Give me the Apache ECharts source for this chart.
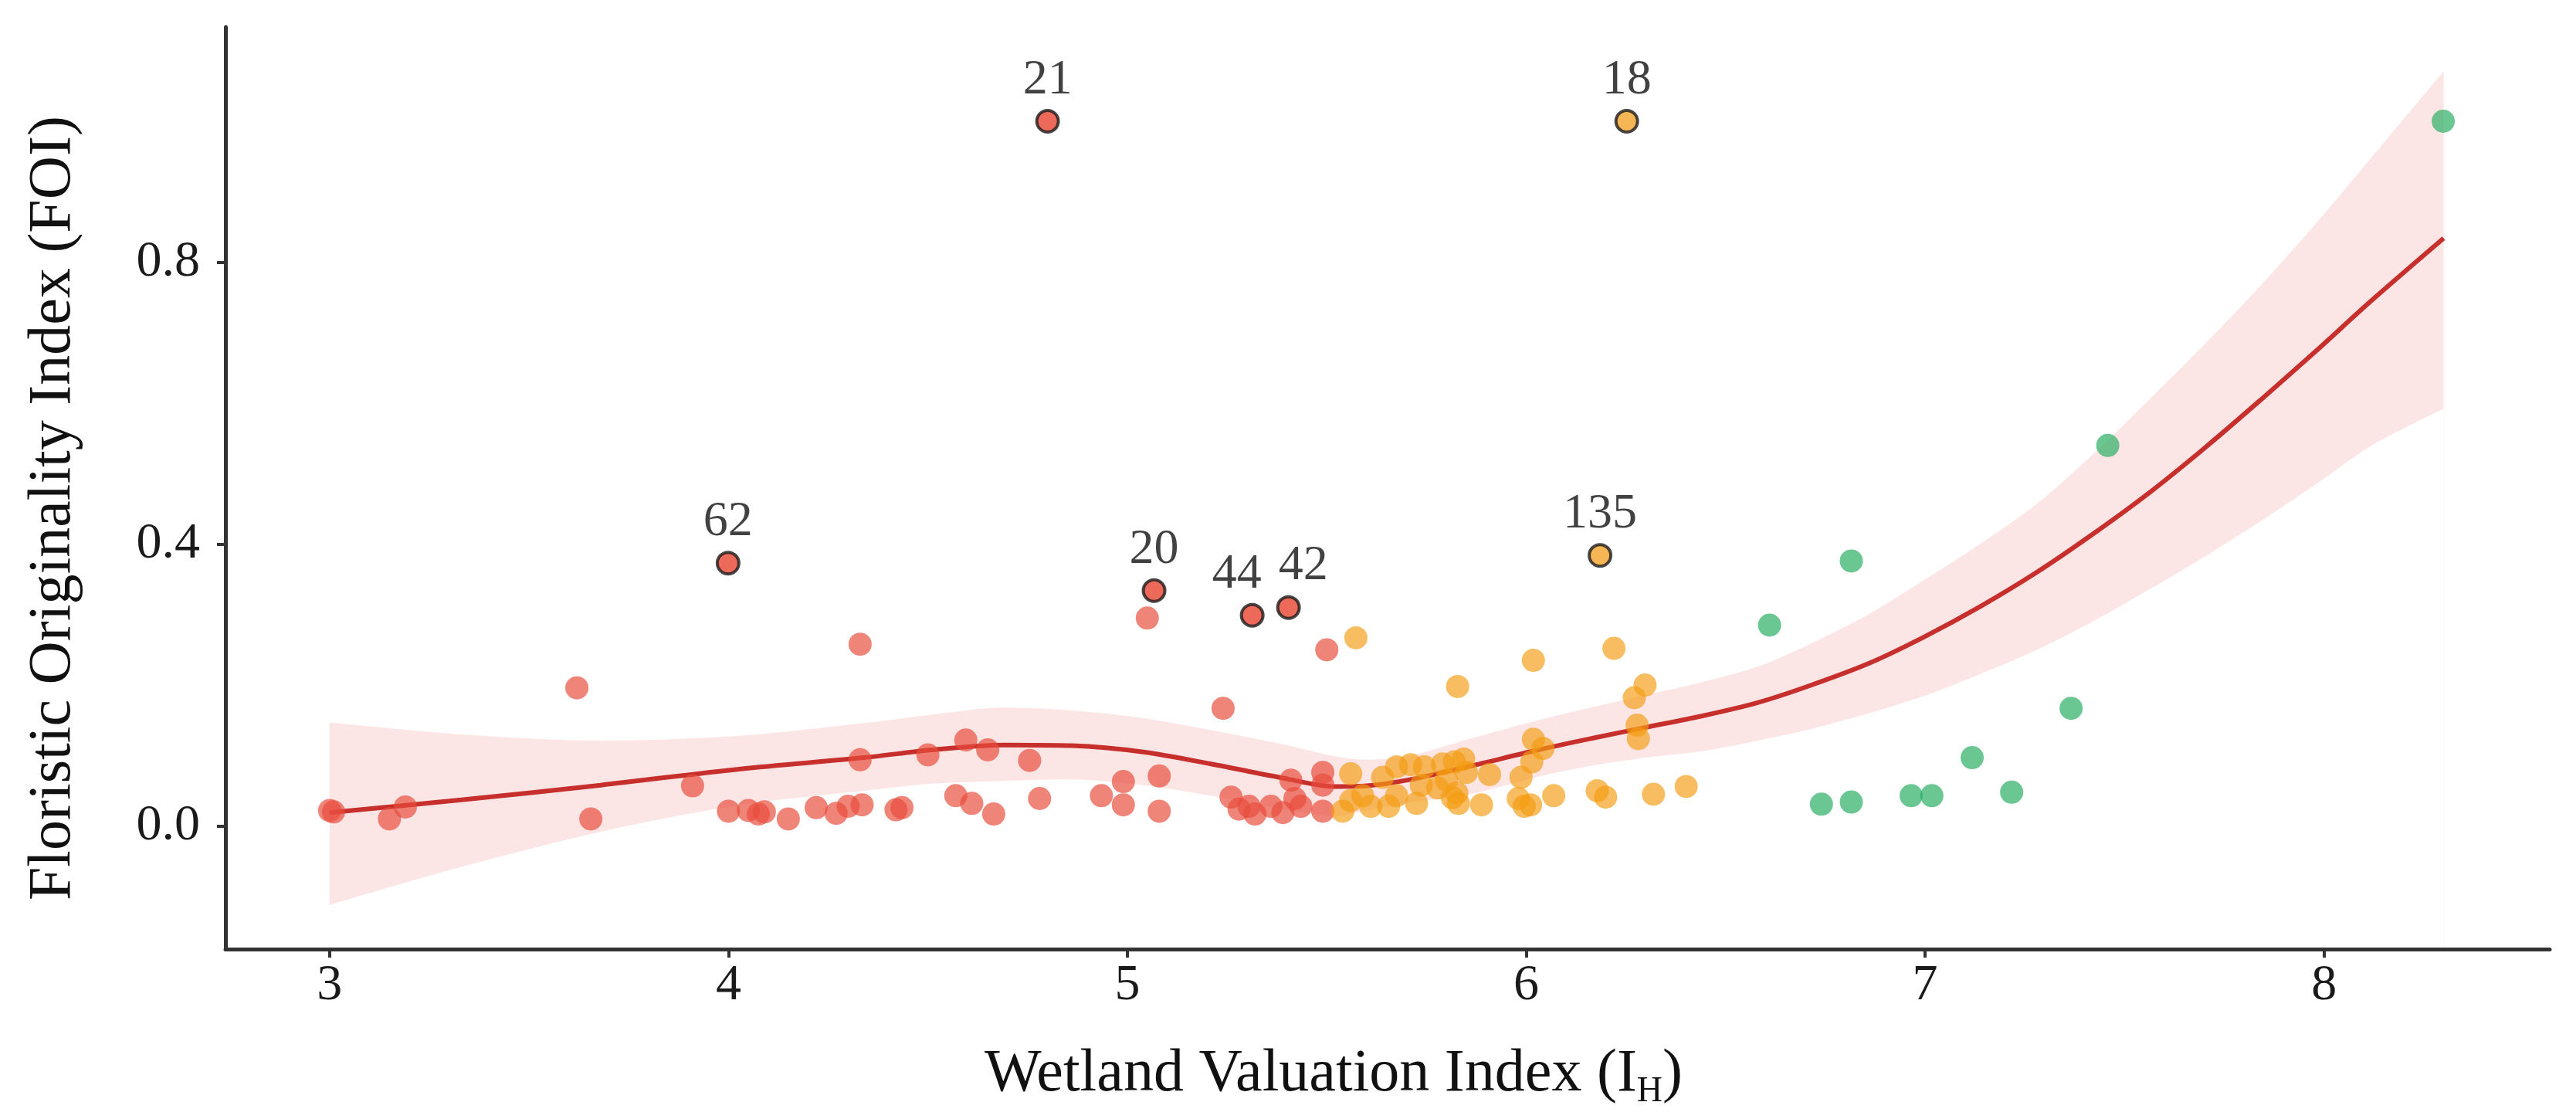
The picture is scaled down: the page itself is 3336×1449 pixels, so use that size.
<!DOCTYPE html>
<html>
<head>
<meta charset="utf-8">
<script src="https://cdn.jsdelivr.net/npm/echarts@6/dist/echarts.min.js"></script>
<style>
html,body{margin:0;padding:0;background:#fff;}
#chart{width:3336px;height:1449px;}
</style>
</head>
<body>
<div id="chart"></div>
<script>
// ---- data ----
const xTicks = [3, 4, 5, 6, 7, 8];
const yTicks = [0, 0.4, 0.8];

const redPoints = [
  [3.00, 0.022], [3.01, 0.020], [3.15, 0.010], [3.19, 0.027], [3.62, 0.196], [3.655, 0.010],
  [3.91, 0.057], [4.00, 0.021], [4.05, 0.022], [4.075, 0.017], [4.09, 0.020], [4.15, 0.010],
  [4.22, 0.026], [4.27, 0.018], [4.30, 0.028], [4.335, 0.030], [4.33, 0.258], [4.33, 0.094],
  [4.42, 0.023], [4.435, 0.026], [4.50, 0.101], [4.57, 0.043], [4.595, 0.122], [4.61, 0.032],
  [4.65, 0.108], [4.665, 0.017], [4.755, 0.093], [4.78, 0.039], [4.935, 0.043], [4.99, 0.063],
  [4.99, 0.030], [5.08, 0.071], [5.08, 0.021], [5.05, 0.295], [5.50, 0.250], [5.24, 0.167],
  [5.26, 0.041], [5.28, 0.024], [5.305, 0.028], [5.32, 0.017], [5.36, 0.028], [5.39, 0.019],
  [5.41, 0.065], [5.42, 0.039], [5.435, 0.028], [5.49, 0.076], [5.49, 0.058], [5.49, 0.021]
];

const orangePoints = [
  [5.54, 0.021], [5.56, 0.074], [5.56, 0.036], [5.573, 0.267], [5.59, 0.043], [5.61, 0.028],
  [5.64, 0.069], [5.655, 0.028], [5.675, 0.084], [5.675, 0.043], [5.71, 0.087], [5.725, 0.032],
  [5.745, 0.084], [5.737, 0.058], [5.778, 0.054], [5.79, 0.088], [5.80, 0.065], [5.82, 0.091],
  [5.826, 0.047], [5.83, 0.032], [5.828, 0.198], [5.815, 0.040], [5.843, 0.095], [5.85, 0.076],
  [5.908, 0.073], [5.888, 0.030], [5.98, 0.039], [5.987, 0.069], [5.995, 0.028], [6.011, 0.030],
  [6.014, 0.091], [6.018, 0.123], [6.042, 0.110], [6.018, 0.235], [6.069, 0.043], [6.178, 0.050],
  [6.199, 0.041], [6.22, 0.252], [6.271, 0.182], [6.298, 0.200], [6.278, 0.143], [6.281, 0.124],
  [6.319, 0.045], [6.401, 0.056]
];

const greenPoints = [
  [6.61, 0.285], [6.74, 0.031], [6.815, 0.034], [6.815, 0.376], [6.965, 0.043], [7.017, 0.043],
  [7.118, 0.097], [7.217, 0.048], [7.366, 0.167], [7.458, 0.540], [8.299, 1.000]
];

const outlierX = [4.80, 3.999, 5.067, 5.313, 5.404, 6.252, 6.185];
const outlierY = [1.000, 0.373, 0.334, 0.299, 0.310, 1.000, 0.384];
const outlierLabels = ['21', '62', '20', '44', '42', '18', '135'];
const outlierGroup = ['red', 'red', 'red', 'red', 'red', 'orange', 'orange'];

const fitX   = [3.00, 3.33, 3.68, 4.03, 4.34, 4.51, 4.69, 4.86, 5.04, 5.21, 5.39, 5.52, 5.60, 5.71, 5.86, 6.03, 6.17, 6.30, 6.44, 6.58, 6.71, 6.86, 7.00, 7.14, 7.28, 7.42, 7.56, 7.70, 7.84, 7.98, 8.12, 8.30];
const fitY   = [0.019, 0.037, 0.058, 0.081, 0.097, 0.108, 0.115, 0.114, 0.105, 0.088, 0.068, 0.056, 0.057, 0.066, 0.085, 0.108, 0.125, 0.140, 0.156, 0.175, 0.199, 0.231, 0.269, 0.312, 0.360, 0.414, 0.472, 0.536, 0.604, 0.674, 0.746, 0.834];
const upperY = [0.147, 0.130, 0.121, 0.128, 0.146, 0.158, 0.168, 0.164, 0.153, 0.136, 0.116, 0.099, 0.094, 0.100, 0.124, 0.150, 0.169, 0.186, 0.204, 0.226, 0.258, 0.301, 0.350, 0.401, 0.457, 0.527, 0.604, 0.683, 0.766, 0.855, 0.949, 1.071];
const lowerY = [-0.112, -0.058, -0.008, 0.030, 0.050, 0.060, 0.064, 0.066, 0.058, 0.043, 0.024, 0.014, 0.022, 0.033, 0.045, 0.070, 0.086, 0.097, 0.106, 0.121, 0.137, 0.160, 0.185, 0.216, 0.250, 0.290, 0.335, 0.382, 0.432, 0.485, 0.540, 0.592];

// ---- styles ----
const FONT = "'Liberation Serif', 'DejaVu Serif', serif";
const groupFill = { red: 'rgba(231,76,60,0.86)', orange: 'rgba(243,156,18,0.84)', green: 'rgba(39,174,96,0.86)' };
const outlierFill = { red: '#E8432F', orange: '#F4A42A' };
const labelOffsets = { '44': [-20, 0], '42': [19, 0] };
const SMOOTH = 0.3;

const chart = echarts.init(document.getElementById('chart'), null, { renderer: 'canvas' });

const outlierData = outlierX.map((x, i) => ({
  value: [x, outlierY[i]],
  name: outlierLabels[i],
  itemStyle: { color: outlierFill[outlierGroup[i]] },
  label: { offset: labelOffsets[outlierLabels[i]] || [0, 0] }
}));

const option = {
  backgroundColor: '#ffffff',
  animation: false,
  grid: { left: 292, right: 34, top: 35, bottom: 220, containLabel: false },
  xAxis: {
    type: 'value',
    min: 2.739, max: 8.566,
    z: 10,
    name: '{a|Wetland Valuation Index (I}{s|H}{a|)}',
    nameLocation: 'middle',
    nameGap: 118,
    nameTextStyle: {
      padding: [0, 140, 0, 0],
      rich: {
        a: { fontFamily: FONT, fontSize: 78, color: '#111', lineHeight: 90, verticalAlign: 'middle' },
        s: { fontFamily: FONT, fontSize: 46, color: '#111', lineHeight: 46, verticalAlign: 'bottom' }
      }
    },
    axisLine: { show: true, onZero: false, lineStyle: { color: '#333', width: 5 } },
    axisTick: { show: true, length: 11, customValues: xTicks, lineStyle: { color: '#333', width: 4 } },
    axisLabel: { customValues: xTicks, margin: 15, fontFamily: FONT, fontSize: 66, color: '#1a1a1a',
      formatter: v => String(v) },
    splitLine: { show: false }
  },
  yAxis: {
    type: 'value',
    min: -0.1747, max: 1.1337,
    z: 10,
    name: 'Floristic Originality Index (FOI)',
    nameLocation: 'middle',
    nameRotate: 90,
    nameGap: 183,
    nameTextStyle: { fontFamily: FONT, fontSize: 78, color: '#111', padding: [0, 52, 0, 0] },
    axisLine: { show: true, onZero: false, lineStyle: { color: '#333', width: 5 } },
    axisTick: { show: true, length: 11, customValues: yTicks, lineStyle: { color: '#333', width: 4 } },
    axisLabel: { customValues: yTicks, margin: 33, fontFamily: FONT, fontSize: 66, color: '#1a1a1a',
      formatter: v => Number(v).toFixed(1) },
    splitLine: { show: false }
  },
  series: [
    {
      // confidence band: area under the upper bound ...
      type: 'line', name: 'ciUpper',
      data: fitX.map((x, i) => [x, upperY[i]]),
      smooth: SMOOTH, showSymbol: false, symbol: 'none', silent: true,
      lineStyle: { opacity: 0 },
      areaStyle: { color: 'rgb(252,229,229)', opacity: 1, origin: 'start' }, z: 1
    },
    {
      // ... with the part under the lower bound painted back to white
      type: 'line', name: 'ciLower',
      data: fitX.map((x, i) => [x, lowerY[i]]),
      smooth: SMOOTH, showSymbol: false, symbol: 'none', silent: true,
      lineStyle: { opacity: 0 },
      areaStyle: { color: '#ffffff', opacity: 1, origin: 'start' }, z: 1
    },
    {
      type: 'line', name: 'fit',
      data: fitX.map((x, i) => [x, fitY[i]]),
      smooth: SMOOTH, showSymbol: false, symbol: 'none', silent: true,
      lineStyle: { color: '#C62F2B', width: 6 }, z: 2
    },
    {
      type: 'scatter', name: 'red', data: redPoints, symbolSize: 30,
      itemStyle: { color: groupFill.red }, z: 3
    },
    {
      type: 'scatter', name: 'orange', data: orangePoints, symbolSize: 30,
      itemStyle: { color: groupFill.orange }, z: 3
    },
    {
      type: 'scatter', name: 'green', data: greenPoints, symbolSize: 30,
      itemStyle: { color: groupFill.green }, z: 3
    },
    {
      type: 'scatter', name: 'outliers', data: outlierData, symbolSize: 28,
      itemStyle: { borderColor: '#1a1a1a', borderWidth: 4 },
      label: { show: true, position: 'top', distance: 5, formatter: '{b}',
        fontFamily: FONT, fontSize: 64, color: '#111' },
      z: 4
    }
  ]
};
chart.setOption(option);
</script>
</body>
</html>
